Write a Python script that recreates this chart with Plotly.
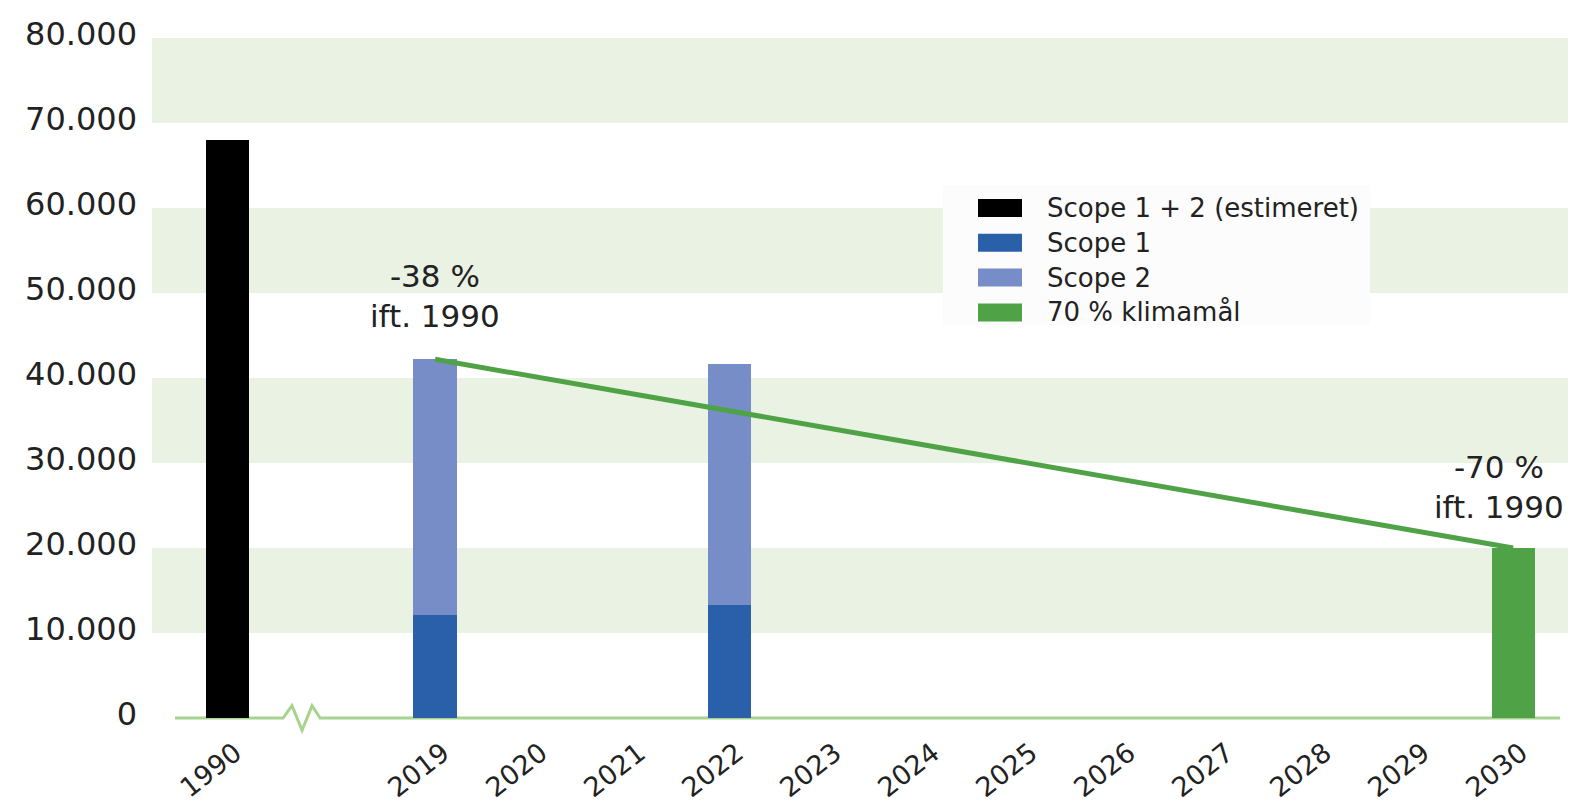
import plotly.graph_objects as go

# ---- data ----
tick_years = ["1990", "2019", "2020", "2021", "2022", "2023", "2024",
              "2025", "2026", "2027", "2028", "2029", "2030"]
estimate_years = ["1990"]
estimate_vals = [68000]
scope_years = ["2019", "2022"]
scope1_vals = [12100, 13300]
scope2_vals = [30100, 28400]
goal_years = ["2030"]
goal_vals = [20000]
target_line_years = ["2019", "2030"]
target_line_vals = [42200, 20000]
note_years = ["2019", "2030"]
note_texts = ["-38 %<br>ift. 1990", "-70 %<br>ift. 1990"]
legend_names = ["Scope 1 + 2 (estimeret)", "Scope 1", "Scope 2", "70 % klimamål"]
y_ticks = [0, 10000, 20000, 30000, 40000, 50000, 60000, 70000, 80000]
y_tick_text = ["0", "10.000", "20.000", "30.000", "40.000", "50.000",
               "60.000", "70.000", "80.000"]

# ---- layout helpers ----
def pos(year):
    # axis break between 1990 and 2019
    return -2.12 if year == "1990" else int(year) - 2019

W, H = 1573, 807
ML, MR, MT, MB = 152, 5, 38, 72

def px2paper(px, py):
    return ((px - ML) / (W - ML - MR), (H - MB - py) / (H - MT - MB))

FONT = "DejaVu Sans"
TXT = "#222222"
BAND = "#e9f2e3"
BASE = "#a6d48f"
C_EST = "#000000"
C_S1 = "#2a5fa9"
C_S2 = "#778dc7"
C_GOAL = "#4fa346"
COLORS = [C_EST, C_S1, C_S2, C_GOAL]
BW = 0.44

fig = go.Figure()
fig.add_trace(go.Bar(x=[pos(y) for y in estimate_years], y=estimate_vals,
                     name=legend_names[0], marker_color=C_EST,
                     width=BW, marker_line_width=0, showlegend=False))
fig.add_trace(go.Bar(x=[pos(y) for y in scope_years], y=scope1_vals,
                     name=legend_names[1], marker_color=C_S1, width=BW,
                     marker_line_width=0, showlegend=False))
fig.add_trace(go.Bar(x=[pos(y) for y in scope_years], y=scope2_vals,
                     name=legend_names[2], marker_color=C_S2, width=BW,
                     marker_line_width=0, showlegend=False))
fig.add_trace(go.Bar(x=[pos(y) for y in goal_years], y=goal_vals,
                     name=legend_names[3], marker_color=C_GOAL, width=BW,
                     marker_line_width=0, showlegend=False))
fig.add_trace(go.Scatter(x=[pos(y) for y in target_line_years],
                         y=target_line_vals, mode="lines",
                         line=dict(color=C_GOAL, width=5),
                         showlegend=False, hoverinfo="skip"))

# alternating background bands
shapes = []
for lo in (10000, 30000, 50000, 70000):
    shapes.append(dict(type="rect", xref="paper", x0=0, x1=1, yref="y",
                       y0=lo, y1=lo + 10000, fillcolor=BAND,
                       line=dict(width=0), layer="below"))
# baseline with axis-break zigzag
a = 1450
path = (f"M-2.653,0 L-1.55,0 L-1.46,{a} L-1.357,{-a} L-1.255,{a} "
        f"L-1.173,0 L11.48,0")
shapes.append(dict(type="path", xref="x", yref="y", path=path,
                   line=dict(color=BASE, width=3), layer="below"))

annotations = []
note_y = [49600, 27200]
note_dx = [0, -0.14]
for yr, t, yy, dx in zip(note_years, note_texts, note_y, note_dx):
    annotations.append(dict(x=pos(yr) + dx, y=yy, xref="x", yref="y",
                            text=t, showarrow=False,
                            font=dict(family=FONT, size=31, color=TXT),
                            xanchor="center", yanchor="middle"))

# legend box (custom, to match the wide swatches)
bx0, by0 = px2paper(943, 325)
bx1, by1 = px2paper(1370, 185)
shapes.append(dict(type="rect", xref="paper", yref="paper", x0=bx0, x1=bx1,
                   y0=by0, y1=by1, fillcolor="#fcfcfc", line=dict(width=0),
                   layer="above"))
for i, (name, col) in enumerate(zip(legend_names, COLORS)):
    cy = 208 + i * 34.8
    sx0, sy0 = px2paper(978, cy + 9)
    sx1, sy1 = px2paper(1022, cy - 9)
    shapes.append(dict(type="rect", xref="paper", yref="paper", x0=sx0,
                       x1=sx1, y0=sy0, y1=sy1, fillcolor=col,
                       line=dict(width=0), layer="above"))
    tx, ty = px2paper(1045, cy)
    annotations.append(dict(x=tx, y=ty, xref="paper", yref="paper",
                            text=name, showarrow=False, xanchor="left",
                            yanchor="middle",
                            font=dict(family=FONT, size=26, color=TXT)))

fig.update_layout(
    width=W, height=H,
    margin=dict(l=ML, r=MR, t=MT, b=MB),
    paper_bgcolor="white", plot_bgcolor="white",
    barmode="stack", bargap=0,
    font=dict(family=FONT, color=TXT),
    showlegend=False,
    shapes=shapes,
    annotations=annotations,
    xaxis=dict(range=[-2.888, 11.56], tickmode="array",
               tickvals=[pos(y) for y in tick_years], ticktext=tick_years,
               tickangle=-38, showgrid=False, zeroline=False,
               showline=False, ticks="", automargin=False,
               ticklabelshift=8, ticklabelstandoff=-4,
               tickfont=dict(family=FONT, size=27, color=TXT)),
    yaxis=dict(range=[-2000, 80000], tickmode="array", tickvals=y_ticks,
               ticktext=y_tick_text, showgrid=False, zeroline=False,
               showline=False, ticks="", ticklabelstandoff=14,
               ticklabelshift=-4, automargin=False,
               tickfont=dict(family=FONT, size=32, color=TXT)),
)

fig.write_html("out.html", config={"displayModeBar": False},
               post_script="document.body.style.margin='0';")
